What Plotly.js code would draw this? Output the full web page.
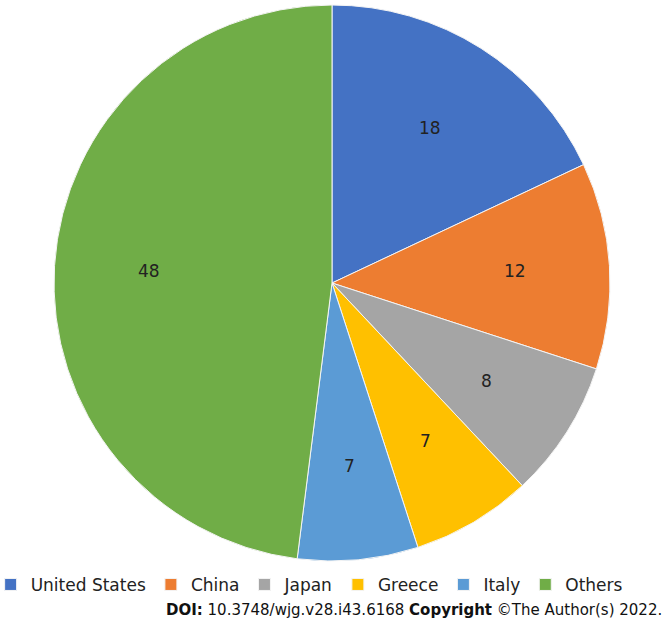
<!DOCTYPE html>
<html>
<head>
<meta charset="utf-8">
<script src="https://cdn.plot.ly/plotly-3.0.1.min.js"></script>
<style>
  html, body { margin: 0; padding: 0; background: #fff; }
  #chart { width: 669px; height: 627px; }
</style>
</head>
<body>
<div id="chart"></div>
<script>
var countries = ["United States", "China", "Japan", "Greece", "Italy", "Others"];
var counts = [18, 12, 8, 7, 7, 48];
var sliceColors = ["#4472C4", "#ED7D31", "#A5A5A5", "#FFC000", "#5B9BD5", "#70AD47"];

var FONT = "Tahoma, 'DejaVu Sans', Verdana, sans-serif";

// pie geometry in pixels (plot area: top 5, height 556, full width)
var W = 669, PLOT_TOP = 5, PLOT_H = 556;
var CX = 332, CY = PLOT_TOP + PLOT_H / 2, R = PLOT_H / 2;
var LABEL_FRAC = 0.66;

// value labels sit on each slice's bisector, like Excel's inside labels
var valueLabels = function(values) {
  var total = values.reduce(function(a, b) { return a + b; }, 0);
  var cum = 0;
  return values.map(function(v) {
    var mid = (cum + v / 2) / total * 2 * Math.PI;
    cum += v;
    var px = CX + Math.sin(mid) * R * LABEL_FRAC;
    var py = CY - Math.cos(mid) * R * LABEL_FRAC;
    return {
      xref: "paper", yref: "paper",
      x: px / W,
      y: (PLOT_TOP + PLOT_H - py) / PLOT_H,
      xanchor: "center", yanchor: "middle",
      showarrow: false,
      text: String(v),
      font: { family: FONT, size: 17, color: "#222" }
    };
  });
};

var data = [
  {
    type: "pie",
    labels: countries,
    values: counts,
    sort: false,
    direction: "clockwise",
    rotation: 0,
    textinfo: "none",
    marker: { colors: sliceColors, line: { color: "#f4f4f4", width: 1 } },
    domain: { x: [(CX - R) / W, (CX + R) / W], y: [0, 1] },
    hoverinfo: "label+value"
  }
];

var annotations = valueLabels(counts);
annotations.push({
  xref: "paper",
  yref: "paper",
  x: 0.993,
  y: -0.088,
  xanchor: "right",
  yanchor: "middle",
  showarrow: false,
  text: "<b>DOI:</b> 10.3748/wjg.v28.i43.6168 <b>Copyright</b> ©The Author(s) 2022.",
  font: { family: FONT, size: 15, color: "#111" }
});

var layout = {
  width: W,
  height: 627,
  margin: { t: PLOT_TOP, b: 627 - PLOT_TOP - PLOT_H, l: 0, r: 0, autoexpand: false },
  paper_bgcolor: "#fff",
  showlegend: true,
  legend: {
    orientation: "h",
    x: -0.014,
    xanchor: "left",
    y: -0.043,
    yanchor: "middle",
    traceorder: "normal",
    font: { family: FONT, size: 17, color: "#222" },
    itemwidth: 30
  },
  annotations: annotations
};

Plotly.newPlot("chart", data, layout, { displayModeBar: false });
</script>
</body>
</html>
